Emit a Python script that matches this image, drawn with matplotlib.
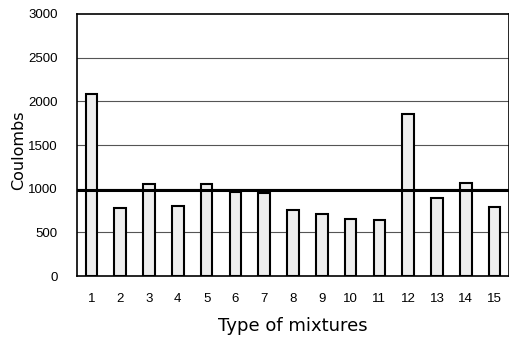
import numpy as np
import matplotlib
matplotlib.use("Agg")
import matplotlib.pyplot as plt

plt.rcParams['font.family'] = ['Liberation Sans', 'DejaVu Sans']

mixtures = list(range(1, 16))
coulombs = [2080, 780, 1050, 800, 1050, 965, 950, 755, 715, 650, 645, 1850, 890, 1070, 785]
limit = 980
yticks = [0, 500, 1000, 1500, 2000, 2500, 3000]

fig = plt.figure(figsize=(5.1, 3.4), dpi=100)
ax = fig.add_axes([0.151, 0.188, 0.847, 0.771])

for y in yticks[1:-1]:
    ax.axhline(y, color='#555555', lw=0.8, zorder=0)
ax.bar(mixtures, coulombs, width=0.4, color='#eeeeee', edgecolor='black', linewidth=1.5, zorder=2)
ax.axhline(limit, color='black', lw=2.2, zorder=3)

ax.set_xlim(0.5, 15.5)
ax.set_ylim(0, 3000)
ax.set_xticks(mixtures)
ax.set_yticks(yticks)
ax.tick_params(length=0, labelsize=9.5)
ax.tick_params(axis='y', pad=14)
ax.tick_params(axis='x', pad=12)
for s in ax.spines.values():
    s.set_linewidth(1.2)

ax.set_ylabel('Coulombs', fontsize=11.5, family='DejaVu Sans')
ax.yaxis.set_label_coords(-0.118, 0.48)
ax.set_xlabel('Type of mixtures', fontsize=13, family='DejaVu Sans', labelpad=9)

fig.savefig('out.png', dpi=100)
